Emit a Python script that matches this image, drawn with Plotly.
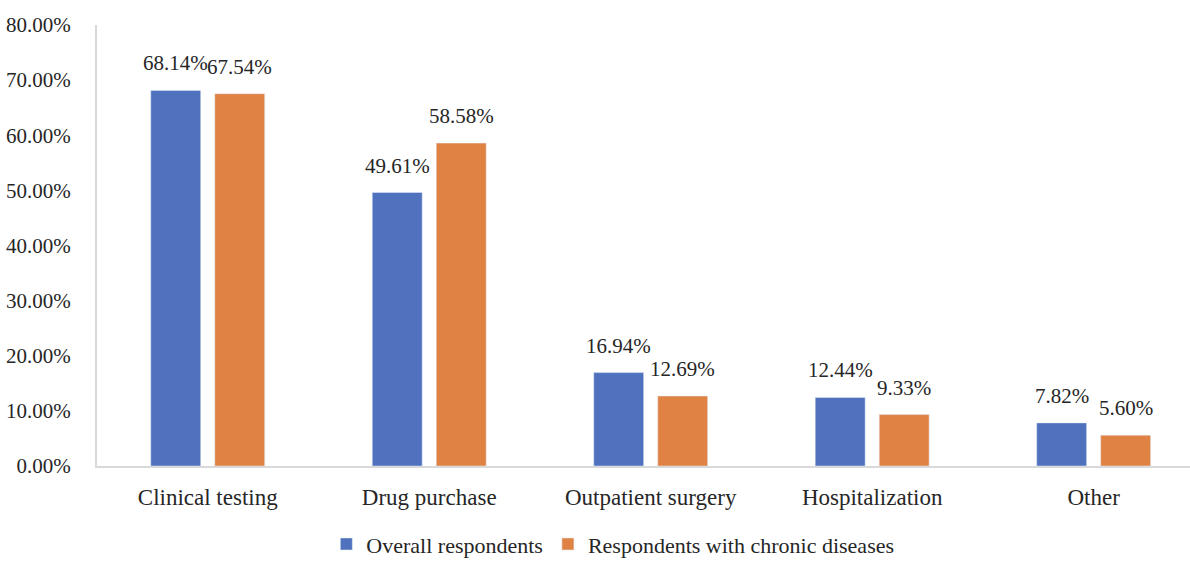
import plotly.graph_objects as go

categories = ["Clinical testing", "Drug purchase", "Outpatient surgery", "Hospitalization", "Other"]
overall = [0.6814, 0.4961, 0.1694, 0.1244, 0.0782]
chronic = [0.6754, 0.5858, 0.1269, 0.0933, 0.0560]

FONT = "Liberation Serif, Times New Roman, serif"
TXT = "#262626"
fig = go.Figure()
fig.add_trace(go.Bar(name="Overall respondents", x=categories, y=overall,
                     marker=dict(color="#4F71BE")))
fig.add_trace(go.Bar(name="Respondents with chronic diseases", x=categories, y=chronic,
                     marker=dict(color="#DF8244")))

for series, shift in ((overall, -32), (chronic, 32)):
    for c, v in zip(categories, series):
        fig.add_annotation(x=c, y=v, xref="x", yref="y", text=f"{v:.2%}",
                           showarrow=False, xshift=shift, yshift=13,
                           yanchor="bottom", xanchor="center",
                           font=dict(size=21, color=TXT, family=FONT))

fig.update_layout(
    width=1190, height=561,
    margin=dict(l=97, r=0, t=25, b=95),
    paper_bgcolor="white", plot_bgcolor="white",
    font=dict(family=FONT, size=21, color=TXT),
    barmode="group", bargap=0.422, bargroupgap=0.22,
    showlegend=True,
    legend=dict(orientation="h", x=0.515, xanchor="center", xref="container",
                y=0.03, yanchor="middle", yref="container",
                font=dict(size=22, family=FONT, color=TXT), itemwidth=30,
                traceorder="normal"),
    xaxis=dict(range=[-0.5, 4.435], showline=True, linecolor="#D9D9D9", linewidth=2,
               ticks="", showgrid=False, tickfont=dict(size=23, family=FONT),
               ticklabelstandoff=9),
    yaxis=dict(range=[0, 0.8], dtick=0.1, tickformat=".2%", showline=True,
               linecolor="#D9D9D9", linewidth=2, ticks="", showgrid=False,
               zeroline=False, tickfont=dict(size=21, family=FONT), ticklabelstandoff=20),
)
fig.write_html("out.html")
